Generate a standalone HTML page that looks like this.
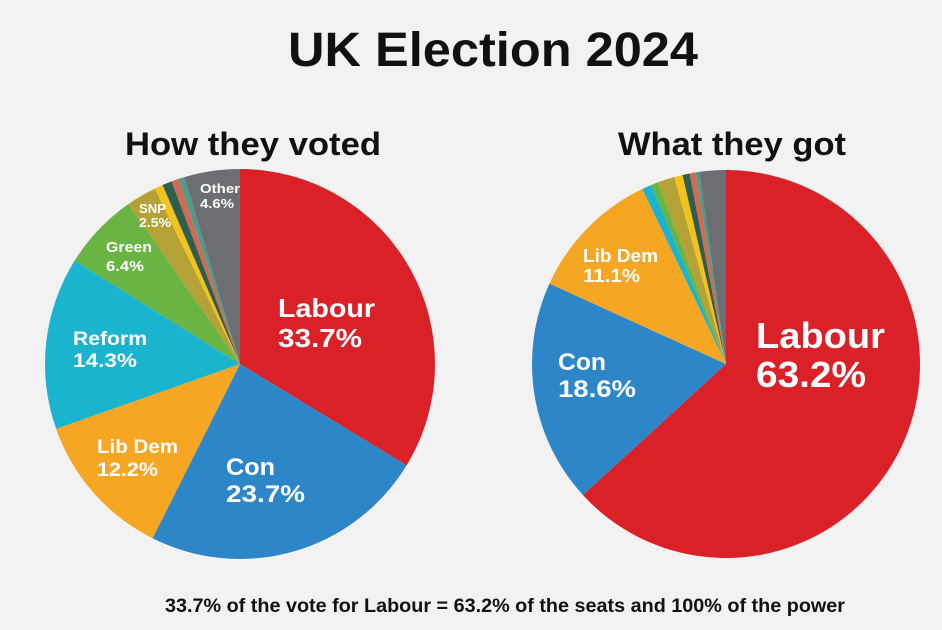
<!DOCTYPE html>
<html><head><meta charset="utf-8"><style>
html,body{margin:0;padding:0;background:#f2f2f2}
svg{display:block}
text{font-family:"Liberation Sans",sans-serif;font-weight:bold}
</style></head><body>
<svg id="s" width="942" height="630" viewBox="0 0 942 630" xmlns="http://www.w3.org/2000/svg">
<rect width="942" height="630" fill="#f2f2f2"/>
<g id="p1"></g><g id="p2"></g>
<text x="288" y="66" font-size="48" fill="#111" textLength="410" lengthAdjust="spacingAndGlyphs">UK Election 2024</text>
<text x="125" y="155" font-size="32" fill="#111" textLength="256" lengthAdjust="spacingAndGlyphs">How they voted</text>
<text x="618" y="155" font-size="32" fill="#111" textLength="228" lengthAdjust="spacingAndGlyphs">What they got</text>
<g fill="#fff">
<text x="278" y="317" font-size="26" textLength="97" lengthAdjust="spacingAndGlyphs">Labour</text>
<text x="278" y="347" font-size="26" textLength="84" lengthAdjust="spacingAndGlyphs">33.7%</text>
<text x="226" y="475" font-size="24" textLength="49" lengthAdjust="spacingAndGlyphs">Con</text>
<text x="226" y="502" font-size="24" textLength="79" lengthAdjust="spacingAndGlyphs">23.7%</text>
<text x="97" y="453" font-size="19" textLength="81" lengthAdjust="spacingAndGlyphs">Lib Dem</text>
<text x="97" y="476" font-size="19" textLength="61" lengthAdjust="spacingAndGlyphs">12.2%</text>
<text x="73" y="345" font-size="19" textLength="74" lengthAdjust="spacingAndGlyphs">Reform</text>
<text x="73" y="367" font-size="19" textLength="64" lengthAdjust="spacingAndGlyphs">14.3%</text>
<text x="106" y="252" font-size="15" textLength="46" lengthAdjust="spacingAndGlyphs">Green</text>
<text x="106" y="271" font-size="15" textLength="38" lengthAdjust="spacingAndGlyphs">6.4%</text>
<text x="139" y="213" font-size="13" textLength="27" lengthAdjust="spacingAndGlyphs">SNP</text>
<text x="139" y="227" font-size="13" textLength="32" lengthAdjust="spacingAndGlyphs">2.5%</text>
<text x="200" y="193" font-size="13" textLength="40" lengthAdjust="spacingAndGlyphs">Other</text>
<text x="200" y="208" font-size="13" textLength="34" lengthAdjust="spacingAndGlyphs">4.6%</text>
<text x="756" y="348" font-size="36" textLength="129" lengthAdjust="spacingAndGlyphs">Labour</text>
<text x="756" y="387" font-size="36" textLength="110" lengthAdjust="spacingAndGlyphs">63.2%</text>
<text x="558" y="370" font-size="24" textLength="48" lengthAdjust="spacingAndGlyphs">Con</text>
<text x="558" y="397" font-size="24" textLength="78" lengthAdjust="spacingAndGlyphs">18.6%</text>
<text x="583" y="262" font-size="18" textLength="75" lengthAdjust="spacingAndGlyphs">Lib Dem</text>
<text x="583" y="282" font-size="18" textLength="57" lengthAdjust="spacingAndGlyphs">11.1%</text>
</g>
<text x="165" y="612" font-size="19" fill="#111" font-weight="normal" textLength="680" lengthAdjust="spacingAndGlyphs" style="font-weight:600">33.7% of the vote for Labour = 63.2% of the seats and 100% of the power</text>
</svg>
<script>
function pie(id,cx,cy,r,data){
  var g=document.getElementById(id),a=0,tot=0,h='';
  data.forEach(function(d){tot+=d[0]});
  data.forEach(function(d){
    var a0=a/tot*2*Math.PI,a1=(a+d[0])/tot*2*Math.PI;a+=d[0];
    var x0=cx+r*Math.sin(a0),y0=cy-r*Math.cos(a0),x1=cx+r*Math.sin(a1),y1=cy-r*Math.cos(a1);
    var lg=(a1-a0)>Math.PI?1:0;
    h+='<path d="M'+cx+','+cy+'L'+x0.toFixed(2)+','+y0.toFixed(2)+'A'+r+','+r+' 0 '+lg+' 1 '+x1.toFixed(2)+','+y1.toFixed(2)+'Z" fill="'+d[1]+'"/>';
  });
  g.innerHTML=h;
}
var R='#d92127',B='#2c86c7',O='#f5a623',C='#1ab4cf',G='#6ab443',OL='#b5a236',Y='#f4c21c',DG='#2d5e50',S='#d06a52',T='#4d9b8b',GR='#6d6e71';
pie('p1',240,364,195,[[33.7,R],[23.7,B],[12.2,O],[14.3,C],[6.4,G],[2.5,OL],[0.7,Y],[0.8,DG],[0.6,S],[0.5,T],[4.6,GR]]);
pie('p2',726,364,194,[[63.2,R],[18.6,B],[11.1,O],[0.8,C],[0.6,G],[1.4,OL],[0.7,Y],[0.6,DG],[0.5,S],[0.3,T],[2.2,GR]]);
</script>
</body></html>
